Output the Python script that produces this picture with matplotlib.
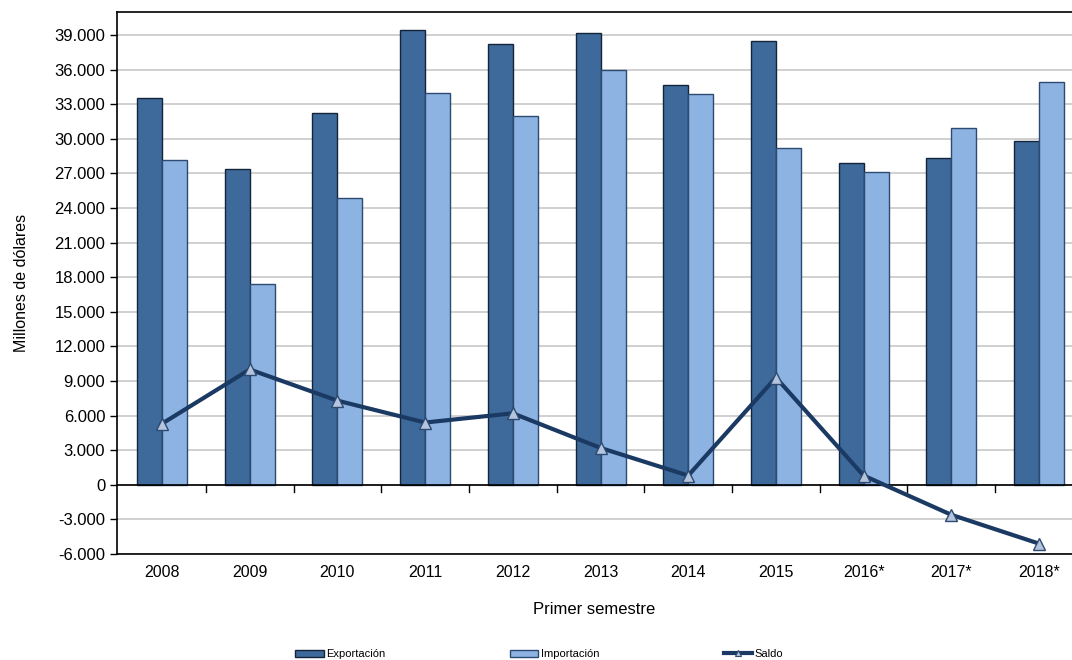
import numpy as np
import matplotlib.pyplot as plt
from matplotlib.ticker import FuncFormatter
from matplotlib.lines import Line2D

# datos (millones de dólares, primer semestre)
years = ["2008", "2009", "2010", "2011", "2012", "2013", "2014", "2015", "2016*", "2017*", "2018*"]
exportacion = [33500, 27400, 32200, 39400, 38200, 39200, 34700, 38500, 27900, 28300, 29800]
importacion = [28200, 17400, 24900, 34000, 32000, 36000, 33900, 29200, 27100, 30900, 34900]
saldo = [5300, 10000, 7300, 5400, 6200, 3200, 800, 9300, 800, -2600, -5100]

C_EXP = "#3E6A9B"
C_IMP = "#8DB3E2"
C_LINE = "#1B3A63"

plt.rcParams['font.family'] = ['Liberation Sans', 'DejaVu Sans']

fig = plt.figure(figsize=(10.72, 6.6), dpi=100)
ax = fig.add_axes([117 / 1072, 106 / 660, 1 - 117 / 1072, 542 / 660])

x = np.arange(len(years))
w = 0.285
b1 = ax.bar(x - w / 2, exportacion, w, color=C_EXP, edgecolor="#14243A", linewidth=1.0,
            label="Exportación", zorder=2)
b2 = ax.bar(x + w / 2, importacion, w, color=C_IMP, edgecolor="#2C4A72", linewidth=1.0,
            label="Importación", zorder=2)
ax.plot(x, saldo, color=C_LINE, linewidth=3, marker="^", markersize=8,
        markerfacecolor="#B4C4DC", markeredgecolor="#2C4A72", markeredgewidth=1.0,
        zorder=3)

ax.set_ylim(-6000, 41000)
ax.set_xlim(-0.513, 10.376)
ax.set_yticks(np.arange(-6000, 39001, 3000))
ax.yaxis.set_major_formatter(FuncFormatter(lambda v, p: f"{int(v):,}".replace(",", ".")))
ax.grid(axis="y", color="#C8C8C8", linewidth=1.2, zorder=0)
ax.set_axisbelow(True)

# eje x en cero con marcas entre categorías
ax.axhline(0, color="black", linewidth=1.2, zorder=2.5)
for b in np.arange(0.5, 10.5, 1.0):
    ax.plot([b, b], [0, -650], color="black", linewidth=1.0, clip_on=False, zorder=2.5)
ax.set_xticks(x)
ax.set_xticklabels(years)
ax.tick_params(axis="x", length=0, pad=8, labelsize=11.5)
ax.tick_params(axis="y", length=5, width=1, direction="out", labelsize=12)

for s in ["left", "bottom", "top"]:
    ax.spines[s].set_color("black")
    ax.spines[s].set_linewidth(1.2)
ax.spines["right"].set_visible(False)

ax.set_xlabel("Primer semestre", fontsize=12, labelpad=16)
ax.set_ylabel("Millones de dólares", fontsize=11.5, labelpad=18)

saldo_handle = Line2D([], [], color=C_LINE, linewidth=3, marker="^", markersize=4,
                      markerfacecolor="#B4C4DC", markeredgecolor="#2C4A72", markeredgewidth=0.8)
fig.legend([b1, b2, saldo_handle], ["Exportación", "Importación", "Saldo"],
           loc="center", bbox_to_anchor=(539 / 1072, 1 - 654 / 660), ncol=3, frameon=False,
           fontsize=8, handlelength=2.6, handleheight=0.6, handletextpad=0.2,
           columnspacing=11.2)

fig.savefig("out.png", dpi=100)
